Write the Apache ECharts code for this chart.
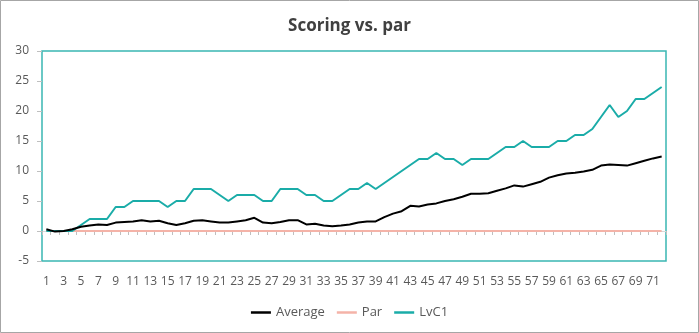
<!DOCTYPE html>
<html>
<head>
<meta charset="utf-8">
<script src="https://cdn.jsdelivr.net/npm/echarts@6/dist/echarts.min.js"></script>
<style>
html,body{margin:0;padding:0;background:#fff;}
#chart{width:699px;height:333px;}
</style>
</head>
<body>
<div id="chart"></div>
<script>
var categories = [];
for (var k = 1; k <= 72; k++) categories.push(String(k));

var averageValues = [0.3,-0.1,0,0.3,0.7,0.9,1.1,1.0,1.4,1.5,1.6,1.8,1.6,1.7,1.3,1.0,1.3,1.7,1.8,1.6,
  1.4,1.4,1.6,1.8,2.2,1.4,1.3,1.5,1.8,1.8,1.1,1.2,0.9,0.8,0.9,1.1,1.4,1.6,1.6,2.3,
  2.9,3.3,4.2,4.1,4.4,4.6,5.0,5.3,5.7,6.2,6.2,6.3,6.7,7.1,7.6,7.4,7.8,8.2,8.9,9.3,
  9.6,9.7,9.9,10.2,10.9,11.1,11.0,10.9,11.3,11.7,12.1,12.4];

var parValues = [0,0,0,0,0,0,0,0,0,0,0,0,0,0,0,0,0,0,0,0,0,0,0,0,0,0,0,0,0,0,0,0,0,0,0,0,
  0,0,0,0,0,0,0,0,0,0,0,0,0,0,0,0,0,0,0,0,0,0,0,0,0,0,0,0,0,0,0,0,0,0,0,0];

var lvc1Values = [0,0,0,0,1,2,2,2,4,4,5,5,5,5,4,5,5,7,7,7,
  6,5,6,6,6,5,5,7,7,7,6,6,5,5,6,7,7,8,7,8,
  9,10,11,12,12,13,12,12,11,12,12,12,13,14,14,15,14,14,14,15,
  15,16,16,17,19,21,19,20,22,22,23,24];

var yTicks = {min: -5, max: 30, interval: 5};

var chart = echarts.init(document.getElementById('chart'), null, {renderer: 'canvas'});
var font = '"Open Sans", "Noto Sans", sans-serif';
var labelColor = '#595959';

chart.setOption({
  animation: false,
  backgroundColor: '#fff',
  textStyle: {fontFamily: font},
  title: {
    text: 'Scoring vs. par',
    left: 'center',
    top: 13,
    textStyle: {fontFamily: font, fontSize: 17, fontWeight: 'bold', color: '#404040'}
  },
  graphic: [{
    type: 'rect',
    shape: {x: 0.5, y: 0.5, width: 698, height: 332},
    style: {fill: 'none', stroke: '#a6a6a6', lineWidth: 1},
    silent: true
  }],
  legend: {
    bottom: 9,
    left: 'center',
    icon: 'rect',
    itemWidth: 20,
    itemHeight: 2.5,
    itemGap: 12,
    textStyle: {fontFamily: font, fontSize: 13, color: labelColor},
    data: ['Average', 'Par', 'LvC1']
  },
  grid: {
    left: 42, right: 33, top: 51, bottom: 72,
    show: true,
    borderColor: '#3ab7b3',
    borderWidth: 1.5,
    containLabel: false
  },
  xAxis: [{
    type: 'category',
    data: categories,
    boundaryGap: true,
    position: 'bottom',
    axisLine: {show: false, onZero: false},
    axisTick: {show: false},
    axisLabel: {interval: 1, color: labelColor, fontSize: 12, margin: 15, fontFamily: font},
    splitLine: {show: false}
  }, {
    type: 'category',
    data: categories,
    boundaryGap: true,
    position: 'top',
    axisLine: {show: true, onZero: true, lineStyle: {color: '#d9d9d9', width: 1}},
    axisTick: {show: true, inside: true, interval: 0, length: 4, lineStyle: {color: '#bfbfbf'}},
    axisLabel: {show: false},
    splitLine: {show: false}
  }],
  yAxis: {
    type: 'value',
    min: yTicks.min,
    max: yTicks.max,
    interval: yTicks.interval,
    axisLine: {show: false},
    axisTick: {show: true, length: 5, lineStyle: {color: '#bfbfbf'}},
    axisLabel: {color: labelColor, fontSize: 12, margin: 13, fontFamily: font},
    splitLine: {show: false}
  },
  series: [{
    name: 'Average',
    type: 'line',
    data: averageValues,
    xAxisIndex: 0,
    showSymbol: false,
    symbol: 'none',
    lineStyle: {color: '#000000', width: 2},
    itemStyle: {color: '#000000'},
    z: 3
  }, {
    name: 'Par',
    type: 'line',
    data: parValues,
    xAxisIndex: 0,
    showSymbol: false,
    symbol: 'none',
    lineStyle: {color: '#f4b3a8', width: 2},
    itemStyle: {color: '#f4b3a8'},
    z: 2
  }, {
    name: 'LvC1',
    type: 'line',
    data: lvc1Values,
    xAxisIndex: 0,
    showSymbol: false,
    symbol: 'none',
    lineStyle: {color: '#1aaca8', width: 2},
    itemStyle: {color: '#1aaca8'},
    z: 2
  }]
});
</script>
</body>
</html>
